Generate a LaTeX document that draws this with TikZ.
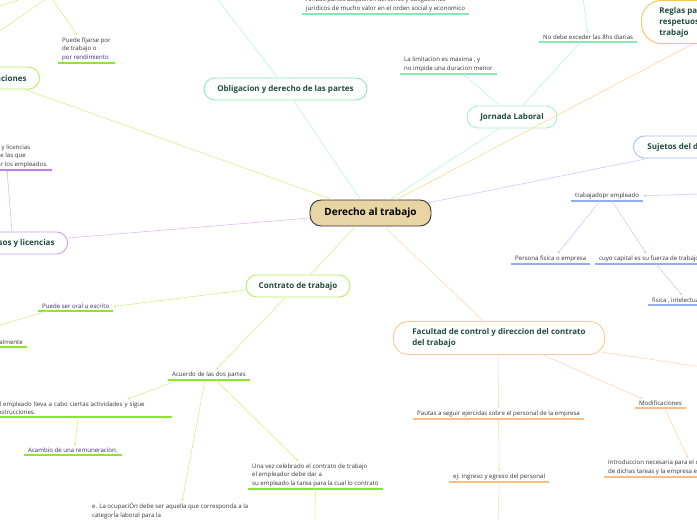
\documentclass[tikz,border=0pt]{standalone}
\usepackage{fontspec}
\setmainfont{Open Sans}
\usetikzlibrary{calc,arrows.meta}
\definecolor{limeB}{HTML}{B8EE5A}
\definecolor{limeU}{HTML}{8CE62E}
\definecolor{limeL}{HTML}{C9F27E}
\definecolor{mintB}{HTML}{8EEAB8}
\definecolor{mintJ}{HTML}{A8F0D0}
\definecolor{mintU}{HTML}{86E8B4}
\definecolor{mintL}{HTML}{B5F2D6}
\definecolor{orangeB}{HTML}{F7C45A}
\definecolor{orangeL}{HTML}{FBD58A}
\definecolor{blueB}{HTML}{A6BCF5}
\definecolor{blueU}{HTML}{93ADF2}
\definecolor{blueL}{HTML}{BCCBF7}
\definecolor{purpB}{HTML}{CE9CF2}
\definecolor{purpU}{HTML}{BF7FEE}
\definecolor{purpL}{HTML}{D9B4F6}
\definecolor{peachB}{HTML}{FCCB94}
\definecolor{peachU}{HTML}{FBBE80}
\definecolor{peachL}{HTML}{FDD3AE}
\definecolor{txtG}{HTML}{1E4D3B}
\definecolor{txtD}{HTML}{333333}
\definecolor{tan}{HTML}{E8D4A4}
\begin{document}
\begin{tikzpicture}[x=1pt,y=-1pt,
  topic/.style={draw=#1, line width=0.9pt, fill=white, rounded corners=11pt,
    minimum height=22pt, font=\fontsize{8}{10}\selectfont\bfseries, text=txtG, inner xsep=12pt},
  sub/.style={font=\fontsize{6.1}{8.6}\selectfont, text=txtD, inner xsep=4pt, inner ysep=2pt, align=left},
  con/.style={draw=#1, line width=0.5pt},
  arr/.style={draw=#1, line width=0.5pt, -{Stealth[length=3pt,width=2.2pt]}},
  uline/.style={draw=#1, line width=1.2pt}]
\useasboundingbox (0,0) rectangle (697,520);
\clip (0,0) rectangle (697,520);
\fill[white] (0,0) rectangle (697,520);

% free ends
\coordinate (remTop) at (50,-4);
\coordinate (tlA) at (28,-3);
\coordinate (tlB) at (-5,7.5);
\coordinate (obTop) at (215,-4);
\coordinate (ndTop) at (583,-3);
\coordinate (sujR) at (702,194);
\coordinate (facR) at (702,367);
\coordinate (oralEnd) at (-10,328);
\coordinate (celebBot) at (315,525);
\coordinate (ingBot) at (498,525);

% sub texts
\node[sub, anchor=south west] (fijarse) at (58,63) {Puede fijarse por\\de trabajo o\\ por rendimiento};
\node[sub, anchor=south west] (juridicos) at (302,14) {Ambas partes adquieren derechos y obligaciones\\juridicos de mucho valor en el orden social y economico};
\node[sub, anchor=south west] (limitacion) at (400,74) {La limitacion es maxima , y\\no impide una duracion menor};
\node[sub, anchor=south west] (nodebe) at (539,42) {No debe exceder las 8hs diarias};
\node[sub, anchor=south east] (licencias) at (52,170) {Existen permisos y licencias\\de la empresa , de las que\\que pueden gozar los empleados.};
\node[sub, anchor=south west] (trabajador) at (571,201) {trabajadopr empleado};
\node[sub, anchor=south west] (persona) at (511,264) {Persona fisica o empresa};
\node[sub, anchor=south west] (cuyo) at (595,264) {cuyo capital es su fuerza de trabajo};
\node[sub, anchor=south west] (fisica) at (648,305) {fisica , intelectual};
\node[sub, anchor=south west] (oral) at (38,311) {Puede ser oral u escrito};
\node[sub, anchor=south east] (almente) at (27,347) {Verbalmente};
\node[sub, anchor=south west] (acuerdo) at (168,380) {Acuerdo de las dos partes};
\node[sub, anchor=south west, text width=172pt] (empleado) at (-8,417) {El empleado lleva a cabo ciertas actividades y sigue\\instrucciones.};
\node[sub, anchor=south west] (acambio) at (24,455) {Acambio de una remuneracion.};
\node[sub, anchor=south west] (celebrado) at (248,489) {Una vez celebrado el contrato de trabajo\\el empleador debe dar a\\su empleado la tarea para la cual lo contrato};
\node[sub, anchor=north west] (ocupacion) at (88,501) {e. La ocupaciÓn debe ser aquella que corresponda a la\\categorÍa laboral para la};
\node[sub, anchor=south west] (pautas) at (413,419) {Pautas a seguir ejercidas sobre el personal de la empresa};
\node[sub, anchor=south west] (ingreso) at (449,482) {ej: ingreso y egreso del personal};
\node[sub, anchor=south west] (modif) at (635,408) {Modificaciones};
\node[sub, anchor=south west] (intro) at (604,477) {Introduccion necesaria para el cumplimiento\\de dichas tareas y la empresa en si};

% underlines
\foreach \n/\c in {fijarse/limeU, juridicos/mintU, limitacion/mintU, nodebe/mintU,
  licencias/purpU, trabajador/blueU, persona/blueU, cuyo/blueU, fisica/blueU,
  oral/limeU, almente/limeU, acuerdo/limeU, empleado/limeU, acambio/limeU,
  celebrado/limeU, ocupacion/limeU, pautas/peachU, ingreso/peachU, modif/peachU, intro/peachU}
  \draw[uline=\c] (\n.south west) -- (\n.south east);

% main topics
\node[topic=limeB, anchor=east, inner xsep=13pt] (remun) at (40,78) {Remuneraciones};
\node[topic=mintB, minimum width=163pt] (oblig) at (285.5,89) {Obligacion y derecho de las partes};
\node[topic=mintJ, minimum width=90pt] (jornada) at (512,117) {Jornada Laboral};
\node[topic=orangeB, anchor=north west, rounded corners=20pt, minimum height=43pt, align=left,
  font=\fontsize{8}{11}\selectfont\bfseries, inner xsep=18pt, inner ysep=4pt] (reglas) at (641,0) {Reglas para el trato\\respetuoso en el\\trabajo};
\node[topic=blueB, anchor=west, inner xsep=14pt] (sujetos) at (633,147) {Sujetos del derecho del trabajo};
\node[topic=purpB, anchor=east, inner xsep=13pt] (permisos) at (68,243) {Permisos y licencias};
\node[topic=limeB, minimum width=104pt] (contrato) at (298,286) {Contrato de trabajo};
\node[topic=peachB, anchor=north west, minimum width=211pt, minimum height=33pt, align=left,
  rounded corners=15pt, font=\fontsize{8}{11}\selectfont\bfseries] (facultad) at (393,321) {Facultad de control y direccion del contrato\\del trabajo};
\node[draw=txtD, line width=0.9pt, fill=tan, rounded corners=11pt, minimum width=121pt, minimum height=26pt,
  font=\fontsize{10}{12}\selectfont\bfseries, text=black] (center) at (370.5,213) {Derecho al trabajo};

% main branches
\draw[con=limeL] ($(center.north west)+(23,0)$) -- ($(remun.south east)+(-15,0)$);
\draw[con=mintL] ($(center.north west)+(51,0)$) -- ($(oblig.south)+(8,0)$);
\draw[con=mintL] ($(center.north west)+(80,0)$) -- ($(jornada.south west)+(33,0)$);
\draw[con=orangeL] ($(center.north west)+(87,0)$) -- ($(reglas.south west)+(52,0)$);
\draw[con=blueL] ($(center.north east)+(-2,3)$) -- ($(sujetos.south west)+(15,0)$);
\draw[con=purpL] ($(center.west)+(0,5)$) -- ($(permisos.east)+(0,-5)$);
\draw[con=limeL] ($(center.south west)+(46,0)$) -- ($(contrato.north east)+(-40,0)$);
\draw[con=peachL] ($(center.south west)+(75,0)$) -- ($(facultad.north west)+(90,0)$);

% sub branches
\draw[con=limeL] ($(remun.north west)+(2,0)$) -- (remTop);
\draw[arr=limeL] (remTop) -- ($(fijarse.north)+(-9,0)$);
\draw[con=limeL] (tlA) -- (tlB);
\draw[con=mintL] ($(oblig.north)+(-8,0)$) -- (obTop);
\draw[arr=mintL] ($(jornada.north west)+(33,0)$) -- ($(limitacion.south)+(15,0)$);
\draw[arr=mintL] ($(jornada.north west)+(56,0)$) -- ($(nodebe.south)+(-7.5,0)$);
\draw[arr=mintL] (ndTop) -- ($(nodebe.north)+(-0.5,0)$);
\draw[arr=blueL] (sujR) -- (trabajador.east);
\draw[arr=blueL] ($(trabajador.south west)+(29,0)$) -- ($(persona.north)+(7,0)$);
\draw[arr=blueL] ($(trabajador.south west)+(41,0)$) -- ($(cuyo.north)+(-3,0)$);
\draw[arr=blueL] ($(cuyo.south west)+(61,0)$) -- ($(fisica.north west)+(34,0)$);
\draw[arr=purpL] ($(permisos.north east)+(-56,0)$) -- ($(licencias.south east)+(-45,0)$);
\draw[arr=limeL] ($(contrato.west)+(0,4)$) -- (oral.east);
\draw[arr=limeL] ($(oral.south west)+(10,0)$) -- (oralEnd);
\draw[arr=limeL] ($(contrato.south west)+(40,0)$) -- ($(acuerdo.north)+(7,0)$);
\draw[arr=limeL] ($(acuerdo.south west)+(10,0)$) -- ($(empleado.north)+(45,0)$);
\draw[arr=limeL] ($(empleado.south)+(-4,0)$) -- ($(acambio.north)+(2,0)$);
\draw[arr=limeL] ($(acuerdo.south)+(-4,0)$) -- ($(ocupacion.north)+(12,0)$);
\draw[arr=limeL] ($(acuerdo.south)+(7,0)$) -- ($(celebrado.north)+(-17,0)$);
\draw[con=limeL] (celebrado.south) -- (celebBot);
\draw[arr=peachL] ($(facultad.south west)+(105,0)$) -- (pautas.north);
\draw[arr=peachL] (pautas.south) -- (ingreso.north);
\draw[con=peachL] (ingreso.south) -- (ingBot);
\draw[arr=peachL] ($(facultad.south west)+(150,0)$) -- ($(modif.north)+(-18,0)$);
\draw[con=peachL] ($(facultad.south east)+(-4,-3)$) -- (facR);
\draw[arr=peachL] ($(modif.south)+(4,0)$) -- ($(intro.north west)+(84,0)$);
\end{tikzpicture}
\end{document}
